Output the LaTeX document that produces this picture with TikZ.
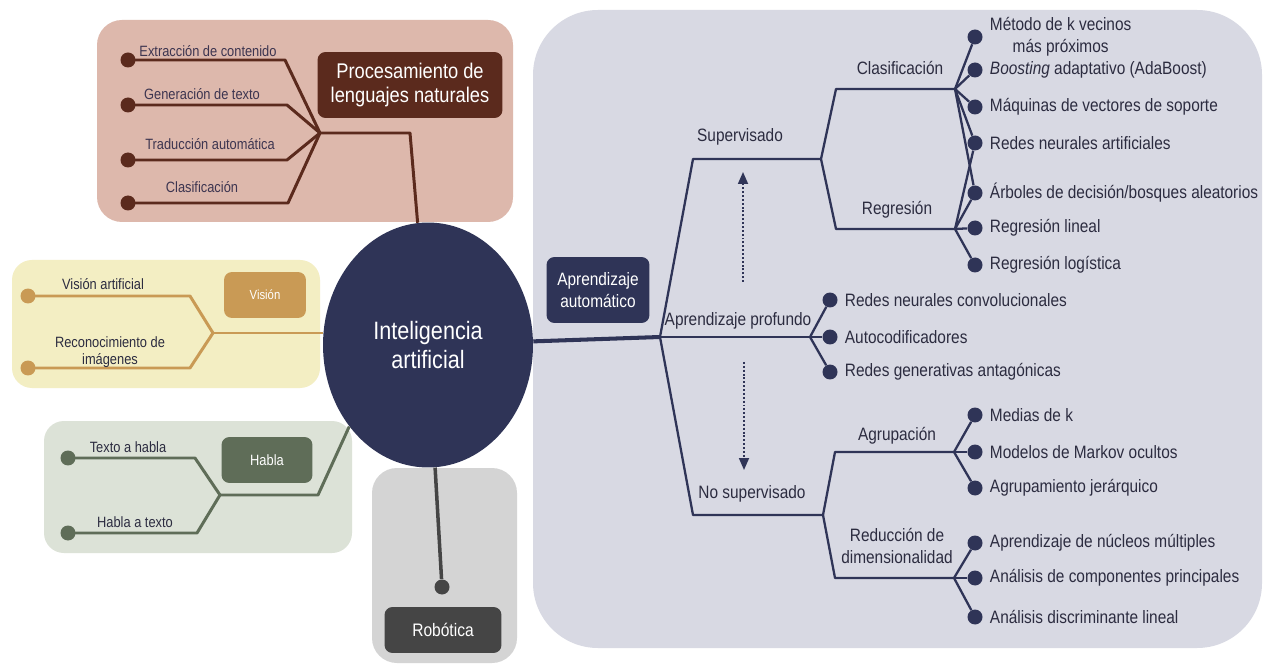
\documentclass[tikz,border=0pt]{standalone}
\usepackage{fontspec}
\setmainfont{Liberation Sans}[FakeStretch=0.86]
\usetikzlibrary{shapes,arrows.meta,positioning,calc}

\definecolor{aiblue}{HTML}{2F3457}
\definecolor{mlbg}{HTML}{D8D9E3}
\definecolor{mltext}{HTML}{2C2C40}
\definecolor{nlpbg}{HTML}{DDB8AC}
\definecolor{nlpdark}{HTML}{5B2A1D}
\definecolor{nlptext}{HTML}{3D3550}
\definecolor{visbg}{HTML}{F3EEC3}
\definecolor{visgold}{HTML}{C99A55}
\definecolor{spbg}{HTML}{DCE2D7}
\definecolor{spgreen}{HTML}{5F6D58}
\definecolor{robbg}{HTML}{D4D4D4}
\definecolor{robdark}{HTML}{454545}

\begin{document}
\begin{tikzpicture}[x=0.02cm, y=-0.02cm,
  bullet/.style={circle, fill=#1, minimum size=0.3cm, inner sep=0pt},
  tagbox/.style={rectangle, rounded corners=0.16cm, fill=#1, text=white, align=center, inner sep=0pt},
  lbl/.style={text=nlptext, inner sep=1pt, align=center, font={\fontsize{8.5}{10}\selectfont}},
  leaflbl/.style={text=mltext, inner sep=1pt, align=center, font={\fontsize{10.2}{12.5}\selectfont}},
  branchlbl/.style={text=mltext, inner sep=1pt, align=center, font={\fontsize{10.2}{12.5}\selectfont}},
  wire/.style={draw=#1, line width=1.7pt, line join=round},
  mlwire/.style={draw=aiblue, line width=1.3pt, line join=round},
  dotarrow/.style={draw=aiblue, line width=1pt, dash pattern=on 1.1pt off 1.1pt, -{Triangle[length=0.24cm, width=0.2cm, fill=aiblue]}}
]
\useasboundingbox (0,0) rectangle (1264,665);
\fill[white] (0,0) rectangle (1264,665);

% backgrounds
\fill[mlbg, rounded corners=1.3cm] (533,10) rectangle (1262,648);
\fill[nlpbg, rounded corners=0.5cm] (97,20) rectangle (513,222);
\fill[visbg, rounded corners=0.4cm] (12,260) rectangle (320,388);
\fill[spbg, rounded corners=0.4cm] (44,421) rectangle (352,553);
\fill[robbg, rounded corners=0.5cm] (372,468) rectangle (517,663);

% centre
\node[ellipse, fill=aiblue, minimum width=4.2cm, minimum height=4.9cm, inner sep=0pt, text=white, align=center, font={\fontsize{14.3}{17}\selectfont}] (ai) at (428,345) {Inteligencia\\artificial};

% group tags
\node[tagbox=nlpdark, minimum width=3.7cm, minimum height=1.32cm, font={\fontsize{12.1}{14.2}\selectfont}] (nlp) at (410,85) {Procesamiento de\\lenguajes naturales};
\node[tagbox=visgold, minimum width=1.64cm, minimum height=0.92cm, font={\fontsize{7.5}{8}\selectfont}] (vis) at (265,295) {Visión};
\node[tagbox=spgreen, minimum width=1.82cm, minimum height=0.92cm, font={\fontsize{8.5}{10}\selectfont}] (speech) at (267,460) {Habla};
\node[tagbox=robdark, minimum width=2.34cm, minimum height=0.92cm, font={\fontsize{10.3}{12}\selectfont}] (robot) at (443,630) {Robótica};
\node[tagbox=aiblue, minimum width=2.06cm, minimum height=1.32cm, font={\fontsize{10.2}{12.5}\selectfont}] (ml) at (598,290) {Aprendizaje\\automático};

% natural language processing
\node[bullet=nlpdark] (n1) at (128,60) {};
\node[bullet=nlpdark] (n2) at (128,105) {};
\node[bullet=nlpdark] (n3) at (128,160) {};
\node[bullet=nlpdark] (n4) at (128,203) {};
\coordinate (jn) at (320,133);
\draw[wire=nlpdark] (n1.center) -- ++(157,0) -- (jn);
\draw[wire=nlpdark] (n2.center) -- ++(159,0) -- (jn);
\draw[wire=nlpdark] (n3.center) -- ++(159,0) -- (jn);
\draw[wire=nlpdark] (n4.center) -- ++(160,0) -- (jn);
\draw[wire=nlpdark] (jn) -- ++(90,0) -- (ai);
\node[lbl, anchor=base] (n1t) at (208,57) {Extracción de contenido};
\node[lbl, anchor=base] (n2t) at (202,100) {Generación de texto};
\node[lbl, anchor=base] (n3t) at (210,150) {Traducción automática};
\node[lbl, anchor=base] (n4t) at (202,193) {Clasificación};

% vision
\node[bullet=visgold] (v1) at (28,296) {};
\node[bullet=visgold] (v2) at (28,368) {};
\coordinate (jv) at (213,333);
\draw[wire=visgold] (v1.center) -- ++(162,0) -- (jv);
\draw[wire=visgold] (v2.center) -- ++(162,0) -- (jv);
\draw[wire=visgold] (jv) -- (jv -| ai.west);
\node[lbl, anchor=base, text=mltext] (v1t) at (103,290) {Visión artificial};
\node[lbl, text=mltext, font={\fontsize{8.5}{9.5}\selectfont}] (v2t) at (110,352) {Reconocimiento de\\imágenes};

% speech
\node[bullet=spgreen] (s1) at (68,458) {};
\node[bullet=spgreen] (s2) at (68,533) {};
\coordinate (js) at (220,495);
\draw[wire=spgreen] (s1.center) -- ++(127,0) -- (js);
\draw[wire=spgreen] (s2.center) -- ++(129,0) -- (js);
\draw[wire=spgreen] (js) -- ++(98,0) -- (ai.226);
\node[lbl, anchor=base, text=mltext] (s1t) at (128,452) {Texto a habla};
\node[lbl, anchor=base, text=mltext] (s2t) at (135,527) {Habla a texto};

% robotics
\node[bullet=robdark] (rdot) at (442,587) {};
\draw[wire=robdark, line width=2pt] (ai) -- (rdot);

% machine learning
\coordinate (jml) at (660,337);
\draw[mlwire, line width=2.3pt] (ai) -- (jml);
\coordinate (sup) at (821,159);
\coordinate (jd) at (810,337);
\coordinate (uns) at (823,515);
\draw[mlwire] (jml) -- ++(33,-178) -- (sup);
\draw[mlwire] (jml) -- (jd);
\draw[mlwire] (jml) -- ++(33,178) -- (uns);
\node[branchlbl, anchor=base] (supt) at (740,142) {Supervisado};
\node[branchlbl, anchor=base] (deept) at (738,326) {Aprendizaje profundo};
\node[branchlbl, anchor=base] (unst) at (752,498) {No supervisado};

\coordinate (up0) at (743,282);
\coordinate (up1) at (743,172);
\coordinate (dn0) at (744,362);
\coordinate (dn1) at (744,470);
\draw[dotarrow] (up0) -- (up1);
\draw[dotarrow] (dn0) -- (dn1);

% supervised
\coordinate (jc) at (955,89);
\coordinate (jr) at (955,229);
\draw[mlwire] (sup) -- ++(15,-70) -- (jc);
\draw[mlwire] (sup) -- ++(15,70) -- (jr);
\node[branchlbl, anchor=base] (clat) at (900,75) {Clasificación};
\node[branchlbl, anchor=base] (regt) at (897,215) {Regresión};

\node[bullet=aiblue] (c1) at (975,37) {};
\node[bullet=aiblue] (c2) at (975,70) {};
\node[bullet=aiblue] (c3) at (975,107) {};
\node[bullet=aiblue] (c4) at (975,143) {};
\node[bullet=aiblue] (c5) at (975,193) {};
\node[bullet=aiblue] (c6) at (975,228) {};
\node[bullet=aiblue] (c7) at (975,265) {};
\foreach \k in {c1,c2,c3,c4,c5} \draw[mlwire] (jc) -- (\k);
\foreach \k in {c4,c5,c6,c7} \draw[mlwire] (jr) -- (\k);
\node[leaflbl, right=0.1cm of c1] (c1t) {Método de k vecinos\\más próximos};
\node[leaflbl, right=0.1cm of c2] (c2t) {\textit{Boosting} adaptativo (AdaBoost)};
\node[leaflbl, right=0.1cm of c3] (c3t) {Máquinas de vectores de soporte};
\node[leaflbl, right=0.1cm of c4] (c4t) {Redes neurales artificiales};
\node[leaflbl, right=0.1cm of c5] (c5t) {Árboles de decisión/bosques aleatorios};
\node[leaflbl, right=0.1cm of c6] (c6t) {Regresión lineal};
\node[leaflbl, right=0.1cm of c7] (c7t) {Regresión logística};

% deep learning
\node[bullet=aiblue] (d1) at (830,300) {};
\node[bullet=aiblue] (d2) at (830,337) {};
\node[bullet=aiblue] (d3) at (830,372) {};
\foreach \k in {d1,d2,d3} \draw[mlwire] (jd) -- (\k);
\node[leaflbl, right=0.1cm of d1] (d1t) {Redes neurales convolucionales};
\node[leaflbl, right=0.1cm of d2] (d2t) {Autocodificadores};
\node[leaflbl, right=0.1cm of d3] (d3t) {Redes generativas antagónicas};

% unsupervised
\coordinate (ja) at (954,452);
\coordinate (jrd) at (954,578);
\draw[mlwire] (uns) -- ++(12,-63) -- (ja);
\draw[mlwire] (uns) -- ++(12,63) -- (jrd);
\node[branchlbl, anchor=base] (agrt) at (897,440) {Agrupación};
\node[branchlbl] (redt) at (897,546) {Reducción de\\dimensionalidad};

\node[bullet=aiblue] (a1) at (975,415) {};
\node[bullet=aiblue] (a2) at (975,452) {};
\node[bullet=aiblue] (a3) at (975,488) {};
\node[bullet=aiblue] (r1) at (975,543) {};
\node[bullet=aiblue] (r2) at (975,578) {};
\node[bullet=aiblue] (r3) at (975,617) {};
\foreach \k in {a1,a2,a3} \draw[mlwire] (ja) -- (\k);
\foreach \k in {r1,r2,r3} \draw[mlwire] (jrd) -- (\k);
\node[leaflbl, right=0.1cm of a1] (a1t) {Medias de k};
\node[leaflbl, right=0.1cm of a2] (a2t) {Modelos de Markov ocultos};
\node[leaflbl, right=0.1cm of a3] (a3t) {Agrupamiento jerárquico};
\node[leaflbl, right=0.1cm of r1] (r1t) {Aprendizaje de núcleos múltiples};
\node[leaflbl, right=0.1cm of r2] (r2t) {Análisis de componentes principales};
\node[leaflbl, right=0.1cm of r3] (r3t) {Análisis discriminante lineal};
\end{tikzpicture}
\end{document}
